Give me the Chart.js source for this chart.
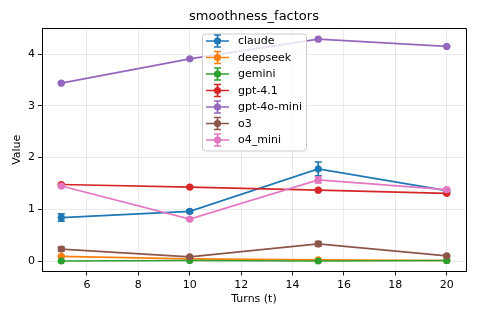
<!DOCTYPE html>
<html>
<head>
<meta charset="utf-8">
<script src="https://cdn.jsdelivr.net/npm/chart.js@4"></script>
<style>
  html, body { margin: 0; padding: 0; background: #fff; }
  canvas { display: block; }
</style>
</head>
<body>
<canvas id="chart" width="478" height="319"></canvas>
<script>
// smoothness_factors chart

const turns = [5, 10, 15, 20];
const xTicks = [6, 8, 10, 12, 14, 16, 18, 20];
const yTicks = [0, 1, 2, 3, 4];

const models = ['claude', 'deepseek', 'gemini', 'gpt-4.1', 'gpt-4o-mini', 'o3', 'o4_mini'];
const colors = ['#1f77b4', '#ff7f0e', '#2ca02c', '#d62728', '#9467bd', '#8c564b', '#e377c2'];

const claudeVals = [0.84, 0.96, 1.78, 1.36];
const claudeErr = [0.07, 0.03, 0.135, 0.02];
const deepseekVals = [0.09, 0.04, 0.02, 0.01];
const deepseekErr = [0.01, 0.01, 0.01, 0.005];
const geminiVals = [0.0, 0.01, 0.0, 0.01];
const geminiErr = [0.0, 0.0, 0.0, 0.0];
const gpt41Vals = [1.48, 1.43, 1.37, 1.31];
const gpt41Err = [0.01, 0.01, 0.01, 0.01];
const gpt4oMiniVals = [3.44, 3.91, 4.29, 4.15];
const gpt4oMiniErr = [0.01, 0.01, 0.01, 0.01];
const o3Vals = [0.23, 0.08, 0.33, 0.10];
const o3Err = [0.04, 0.02, 0.045, 0.02];
const o4MiniVals = [1.45, 0.81, 1.57, 1.38];
const o4MiniErr = [0.02, 0.02, 0.06, 0.02];

const values = [claudeVals, deepseekVals, geminiVals, gpt41Vals, gpt4oMiniVals, o3Vals, o4MiniVals];
const errors = [claudeErr, deepseekErr, geminiErr, gpt41Err, gpt4oMiniErr, o3Err, o4MiniErr];

const FONT = "'DejaVu Sans', sans-serif";

const datasets = models.map((name, i) => ({
  label: name,
  data: turns.map((t, j) => ({ x: t, y: values[i][j] })),
  errors: errors[i],
  borderColor: colors[i],
  backgroundColor: colors[i],
  pointBackgroundColor: colors[i],
  pointBorderWidth: 0,
  pointRadius: 3.6,
  borderWidth: 1.7,
  tension: 0,
  order: models.length - i   // later series on top, like matplotlib
}));

// error bars, drawn right after each series
const errorBars = {
  id: 'errorBars',
  afterDatasetDraw(chart, args) {
    const ds = chart.data.datasets[args.index];
    const xs = chart.scales.x, ys = chart.scales.y;
    const ctx = chart.ctx;
    ctx.save();
    ctx.strokeStyle = ds.borderColor;
    ctx.lineWidth = 1.7;
    ds.data.forEach((p, j) => {
      const e = ds.errors[j];
      const px = xs.getPixelForValue(p.x);
      const top = ys.getPixelForValue(p.y + e);
      const bot = ys.getPixelForValue(p.y - e);
      ctx.beginPath();
      ctx.moveTo(px, top); ctx.lineTo(px, bot);
      ctx.moveTo(px - 3.5, top); ctx.lineTo(px + 3.5, top);
      ctx.moveTo(px - 3.5, bot); ctx.lineTo(px + 3.5, bot);
      ctx.stroke();
    });
    ctx.restore();
  }
};

// title, top/right spines and the boxed legend
const decorations = {
  id: 'decorations',
  afterDraw(chart) {
    const ctx = chart.ctx;
    const a = chart.chartArea;
    ctx.save();
    ctx.strokeStyle = '#000';
    ctx.lineWidth = 1;
    ctx.beginPath();
    ctx.moveTo(a.left, a.top + 0.5); ctx.lineTo(a.right + 0.5, a.top + 0.5);
    ctx.lineTo(a.right + 0.5, a.bottom);
    ctx.stroke();

    ctx.fillStyle = '#000';
    ctx.font = '13px ' + FONT;
    ctx.textAlign = 'center';
    ctx.textBaseline = 'middle';
    ctx.fillText('smoothness_factors', (a.left + a.right) / 2, 17);

    // legend
    const lx = 202, ly = 33.5, lw = 104, lh = 117;
    ctx.fillStyle = 'rgba(255,255,255,0.8)';
    ctx.strokeStyle = '#cccccc';
    ctx.beginPath();
    ctx.roundRect(lx + 0.5, ly + 0.5, lw, lh, 3);
    ctx.fill();
    ctx.stroke();

    ctx.font = '11px ' + FONT;
    ctx.textAlign = 'left';
    chart.data.datasets.forEach((ds, i) => {
      const cy = 41 + i * 16.5;
      ctx.strokeStyle = ds.borderColor;
      ctx.lineWidth = 1.7;
      ctx.beginPath();
      ctx.moveTo(206, cy); ctx.lineTo(229, cy);
      ctx.moveTo(217.5, cy - 6); ctx.lineTo(217.5, cy + 6);
      ctx.moveTo(214, cy - 6); ctx.lineTo(221, cy - 6);
      ctx.moveTo(214, cy + 6); ctx.lineTo(221, cy + 6);
      ctx.stroke();
      ctx.fillStyle = ds.borderColor;
      ctx.beginPath();
      ctx.arc(217.5, cy, 3.6, 0, Math.PI * 2);
      ctx.fill();
      ctx.fillStyle = '#000';
      ctx.fillText(ds.label, 238, cy + 0.5);
    });
    ctx.restore();
  }
};

new Chart(document.getElementById('chart'), {
  type: 'line',
  data: { datasets },
  options: {
    responsive: false,
    devicePixelRatio: 1,
    animation: false,
    layout: { padding: { left: 0, top: 28, right: 12, bottom: 0 } },
    plugins: {
      legend: { display: false },
      tooltip: { enabled: false },
      title: { display: false }
    },
    scales: {
      x: {
        type: 'linear',
        min: 4.25,
        max: 20.75,
        afterBuildTicks: s => { s.ticks = xTicks.map(v => ({ value: v })); },
        afterFit: s => { s.height = 47.5; },
        grid: { color: 'rgba(0,0,0,0.08)', tickColor: '#222', tickLength: 4, lineWidth: 1 },
        border: { color: '#000', width: 1 },
        ticks: { color: '#000', font: { family: FONT, size: 11 }, padding: 3, autoSkip: false, maxRotation: 0 },
        title: { display: true, text: 'Turns (t)', color: '#000', font: { family: FONT, size: 11 }, padding: { top: 0, bottom: 13 } }
      },
      y: {
        type: 'linear',
        min: -0.203,
        max: 4.507,
        afterBuildTicks: s => { s.ticks = yTicks.map(v => ({ value: v })); },
        afterFit: s => { s.width = 42; },
        grid: { color: 'rgba(0,0,0,0.08)', tickColor: '#222', tickLength: 4, lineWidth: 1 },
        border: { color: '#000', width: 1 },
        ticks: { color: '#000', font: { family: FONT, size: 11 }, padding: 3 },
        title: { display: true, text: 'Value', color: '#000', font: { family: FONT, size: 11 }, padding: { top: 11, bottom: 0 } }
      }
    }
  },
  plugins: [errorBars, decorations]
});
</script>
</body>
</html>
